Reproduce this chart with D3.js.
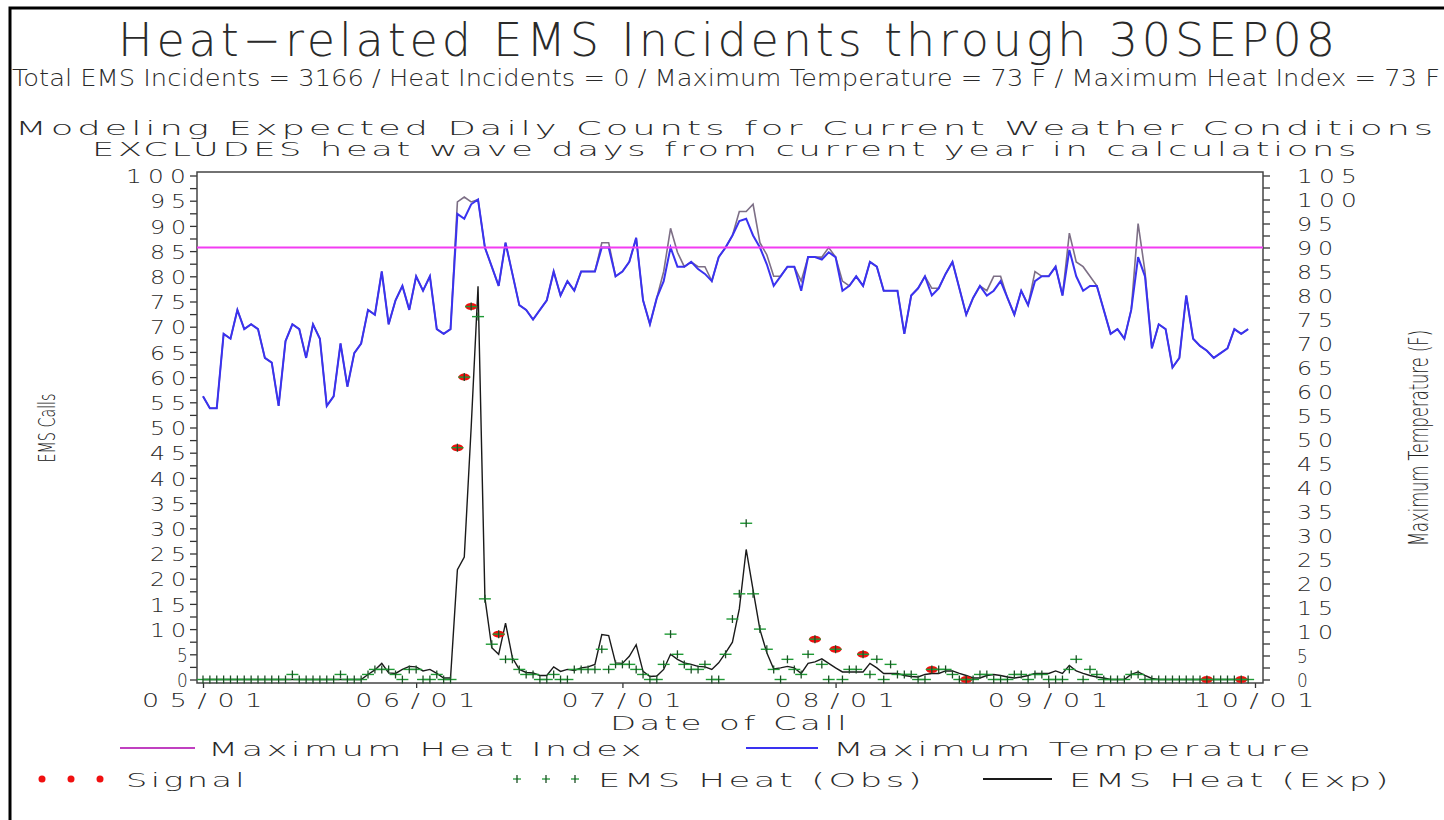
<!DOCTYPE html>
<html>
<head>
<meta charset="utf-8">
<script src="https://cdnjs.cloudflare.com/ajax/libs/d3/7.8.5/d3.min.js"></script>
<style>
  body { margin: 0; background: #fff; }
  svg text { font-family: "DejaVu Sans", sans-serif; font-weight: 300; fill: #2a2a2a; }
</style>
</head>
<body>
<div id="canvas"></div>
<script>
// daily values, 01MAY08 .. 30SEP08
var startDay = new Date(2008, 4, 1),
    endDay = new Date(2008, 9, 1);

var maxTemp = [
    59, 56.5, 56.5, 72, 71, 77, 73, 74, 73, 67,
    66, 57, 70.5, 74, 73, 67, 74, 71, 57, 59,
    70, 61, 68, 70, 77, 76, 85, 74, 79, 82,
    77, 84, 81, 84, 73, 72, 73, 97, 96, 99,
    100, 90, 86, 82, 91, 84.5, 78, 77, 75, 77,
    79, 85, 80, 83, 81, 85, 85, 85, 90, 90,
    84, 85, 87, 92, 79, 74, 79.5, 83, 90, 86,
    86, 87, 85.5, 84.5, 83, 88, 90, 92.5, 95.5, 96,
    92.5, 90, 86.5, 82, 84, 86, 86, 81, 88, 88,
    87.5, 89, 88, 81, 82, 84, 82, 87, 86, 81,
    81, 81, 72, 80, 81.5, 84, 80, 81.5, 84.5, 87,
    81.5, 76, 79.5, 82, 80, 81, 83, 79.5, 76, 81,
    78, 83, 84, 84, 86, 80, 89.5, 84, 81, 82,
    82, 77, 72, 73, 71, 77, 88, 84, 69, 74,
    73, 65, 67, 80, 71, 69.5, 68.5, 67, 68, 69,
    73, 72, 73
];

var maxHeatIndex = [
    59, 56.5, 56.5, 72, 71, 77, 73, 74, 73, 67,
    66, 57, 70.5, 74, 73, 67, 74, 71, 57, 59,
    70, 61, 68, 70, 77, 76, 85, 74, 79, 82,
    77, 84, 81, 84, 73, 72, 73, 99.5, 100.5, 99.5,
    100, 90, 86, 82, 91, 84.5, 78, 77, 75, 77,
    79, 85, 80, 83, 81, 85, 85, 85, 91, 91,
    84, 85, 87, 92, 79, 74, 79.5, 85, 94, 89,
    86, 87, 86, 86, 83, 88, 90, 92.5, 97.5, 97.5,
    99, 91, 88.5, 84, 84, 86, 86, 83, 88, 88,
    88, 90, 88, 83, 82, 84, 82, 87, 86, 81,
    81, 81, 72, 80, 81.5, 84, 81.5, 81.5, 84.5, 87,
    81.5, 76, 79.5, 82, 81, 84, 84, 79.5, 76, 81,
    78, 85, 84, 84, 86, 80, 93, 87, 86, 84,
    82, 77, 72, 73, 71, 77, 95, 85, 69, 74,
    73, 65, 67, 80, 71, 69.5, 68.5, 67, 68, 69,
    73, 72, 73
];

var emsExp = [
    0, 0, 0, 0, 0, 0, 0, 0, 0, 0,
    0, 0, 0, 0, 0, 0, 0, 0, 0, 0,
    0, 0, 0, 0, 1.0, 1.9, 3.2, 1.3, 1.2, 2.0,
    2.6, 2.5, 1.7, 2.0, 1.2, 0.3, 0.3, 21.8, 24.3, 50,
    78, 16.2, 6.3, 5, 11.2, 4.3, 2, 1.4, 1.3, 0.8,
    0.8, 2.5, 1.6, 2, 1.8, 2.3, 2.5, 3, 8.9, 8.7,
    3.3, 3.2, 4.6, 6.9, 1.6, 0.6, 0.7, 2, 5, 4,
    3.3, 3, 2.6, 2.5, 2, 3.3, 5.3, 7.4, 14, 25.8,
    17.8, 9.9, 5.3, 2.1, 2.3, 2.6, 2.3, 1.2, 3.2, 3.5,
    4.1, 3.2, 2.3, 1.5, 1.5, 1.5, 1.5, 3.2, 2.3, 1.2,
    1.2, 1.2, 0.8, 0.6, 0.5, 1.0, 1.2, 1.2, 1.7, 1.7,
    1.2, 0.8, 0.3, 0.3, 0.8, 1.0, 0.8, 0.5, 0.3, 0.5,
    0.8, 1.2, 1.2, 1.2, 1.7, 1.2, 2.8, 1.7, 1.2, 0.8,
    0.5, 0.3, 0, 0, 0, 1.0, 1.5, 0.8, 0.2, 0,
    0, 0, 0, 0, 0, 0, 0, 0, 0, 0,
    0, 0, 0
];

var emsObs = [
    0, 0, 0, 0, 0, 0, 0, 0, 0, 0,
    0, 0, 0, 1, 0, 0, 0, 0, 0, 0,
    1, 0, 0, 0, 1, 2, 2, 2, 1, 0,
    2, 2, 0, 0, 1, 0, 0, 46, 60, 74,
    72, 16, 7, 9, 4, 4, 2, 1, 1, 0,
    0, 1, 0, 0, 2, 2, 2, 2, 6, 2,
    3, 3, 3, 2, 1, 0, 0, 3, 9, 5,
    3, 2, 2, 3, 0, 0, 5, 12, 17, 31,
    17, 10, 6, 2, 0, 4, 2, 1, 5, 8,
    3, 0, 6, 0, 2, 2, 5, 1, 4, 0,
    3, 1, 1, 1, 0, 0, 2, 2, 2, 1,
    0, 0, 0, 1, 1, 0, 0, 0, 1, 1,
    0, 1, 1, 0, 0, 0, 2, 4, 0, 2,
    1, 0, 0, 0, 0, 1, 1, 0, 0, 0,
    0, 0, 0, 0, 0, 0, 0, 0, 0, 0,
    0, 0, 0
];

// day index (0 = 01MAY) of the signal days
var signalDays = [37, 38, 39, 43, 89, 92, 96, 106, 111, 146, 151];

var heatIndexLimit = 90;
var monthLabels = ["05/01", "06/01", "07/01", "08/01", "09/01", "10/01"];

var dates = d3.timeDay.range(startDay, endDay);

var width = 1444,
    height = 820;

var svg = d3.select("#canvas")
    .append("svg")
    .attr("width", width)
    .attr("height", height);

// page frame
svg.append("path")
    .attr("d", "M10,820 L10,8 L1444,8")
    .style("fill", "none")
    .style("stroke", "#000")
    .style("stroke-width", 3);

// wide, stretched text like the SAS hardware font
function wideText(x, y, len, size, str) {
    return svg.append("text")
        .attr("x", x).attr("y", y)
        .attr("textLength", len)
        .attr("lengthAdjust", "spacingAndGlyphs")
        .style("font-size", size + "px")
        .style("letter-spacing", "2px")
        .text(str);
}

// titles
svg.append("text")
    .attr("x", 118).attr("y", 56)
    .attr("textLength", 1217)
    .style("font-size", "46px")
    .style("font-weight", 200)
    .text("Heat\u2212related EMS Incidents through 30SEP08");

svg.append("text")
    .attr("x", 12).attr("y", 86)
    .attr("textLength", 1428)
    .attr("lengthAdjust", "spacingAndGlyphs")
    .style("font-size", "23px")
    .text("Total EMS Incidents = 3166 / Heat Incidents = 0 / Maximum Temperature = 73 F / Maximum Heat Index = 73 F");

wideText(15, 135, 1422, 19, "Modeling Expected Daily Counts for Current Weather Conditions");
wideText(92, 156, 1268, 19, "EXCLUDES heat wave days from current year in calculations");

// scales
var x = d3.scaleTime().domain([startDay, endDay]).range([203, 1255]);
var yLeft = d3.scaleLinear().domain([0, 100]).range([679.5, 175.5]);
var yRight = d3.scaleLinear().domain([0, 105]).range([679.5, 175.5]);

// axes
var leftAxis = d3.axisLeft(yLeft)
    .tickValues(d3.range(0, 100.1, 2.5))
    .tickSize(7).tickPadding(2)
    .tickFormat(function(d) { return d % 5 === 0 ? d : ""; });

var rightAxis = d3.axisRight(yRight)
    .tickValues(d3.range(0, 105.1, 2.5))
    .tickSize(7).tickPadding(27)
    .tickFormat(function(d) { return d % 5 === 0 ? d : ""; });

var bottomAxis = d3.axisBottom(x)
    .ticks(d3.timeMonth.every(1))
    .tickSize(5).tickPadding(5)
    .tickFormat(function(d, i) { return monthLabels[i]; });

var gl = svg.append("g").attr("transform", "translate(197,0)").call(leftAxis);
var gr = svg.append("g").attr("transform", "translate(1263,0)").call(rightAxis);
var gb = svg.append("g").attr("transform", "translate(0,683)").call(bottomAxis);

function labelWidth(s) {
    return s.length === 1 ? 15 : s.length === 2 ? 42 : 66;
}

[gl, gr, gb].forEach(function(g) {
    g.select(".domain").remove();
    g.selectAll("line").style("stroke", "#333").style("stroke-width", 1.3);
    g.selectAll("text")
        .style("font-family", "DejaVu Sans")
        .style("font-size", "20px")
        .style("fill", "#2a2a2a")
        .attr("lengthAdjust", "spacingAndGlyphs");
});
gl.selectAll("text")
    .style("letter-spacing", "5px")
    .attr("dx", 4)
    .attr("dy", "0.36em")
    .attr("textLength", function() { return labelWidth(this.textContent); });
gr.selectAll("text")
    .style("letter-spacing", "5px")
    .attr("text-anchor", "start").attr("x", 34).attr("dy", "0.36em")
    .attr("textLength", function() { return labelWidth(this.textContent); });
gb.selectAll("text")
    .style("letter-spacing", "8px")
    .attr("dx", 4)
    .attr("textLength", 131);

// plot frame
svg.append("rect")
    .attr("x", 197).attr("y", 172)
    .attr("width", 1066).attr("height", 511)
    .style("fill", "none")
    .style("stroke", "#444")
    .style("stroke-width", 1.5);

// axis titles
svg.append("text")
    .attr("transform", "translate(55,428) rotate(-90)")
    .attr("text-anchor", "middle")
    .attr("textLength", 69)
    .attr("lengthAdjust", "spacingAndGlyphs")
    .style("font-size", "23px")
    .style("font-weight", 300)
    .style("fill", "#111")
    .text("EMS Calls");

svg.append("text")
    .attr("transform", "translate(1428,438) rotate(-90)")
    .attr("text-anchor", "middle")
    .attr("textLength", 216)
    .attr("lengthAdjust", "spacingAndGlyphs")
    .style("font-size", "27px")
    .style("font-weight", 300)
    .style("fill", "#222")
    .text("Maximum Temperature (F)");

wideText(610, 730, 240, 20, "Date of Call");

// temperature / heat index lines (right axis)
var lineRight = d3.line()
    .x(function(d, i) { return x(dates[i]); })
    .y(function(d) { return yRight(d); });

svg.append("path")
    .datum(maxHeatIndex)
    .attr("d", lineRight)
    .style("fill", "none")
    .style("stroke", "#7d6f86")
    .style("stroke-width", 1.6);

svg.append("path")
    .datum(maxTemp)
    .attr("d", lineRight)
    .style("fill", "none")
    .style("stroke", "#3a32f0")
    .style("stroke-width", 2);

svg.append("line")
    .attr("x1", 197).attr("x2", 1263)
    .attr("y1", yRight(heatIndexLimit)).attr("y2", yRight(heatIndexLimit))
    .style("stroke", "#f23cf2")
    .style("stroke-width", 2);

// EMS expected line (left axis)
var lineLeft = d3.line()
    .x(function(d, i) { return x(dates[i]); })
    .y(function(d) { return yLeft(d); });

svg.append("path")
    .datum(emsExp)
    .attr("d", lineLeft)
    .style("fill", "none")
    .style("stroke", "#1a1a1a")
    .style("stroke-width", 1.4);

// signal points
svg.selectAll("ellipse.signal")
    .data(signalDays)
    .enter()
    .append("ellipse")
    .attr("class", "signal")
    .attr("cx", function(d) { return x(dates[d]); })
    .attr("cy", function(d) { return yLeft(emsObs[d]); })
    .attr("rx", 6).attr("ry", 3.5)
    .style("fill", "#f01010");

// observed "+" markers
var obs = svg.selectAll("g.obs")
    .data(emsObs)
    .enter()
    .append("g")
    .attr("class", "obs")
    .attr("transform", function(d, i) {
        return "translate(" + x(dates[i]) + "," + yLeft(d) + ")";
    });

obs.append("line")
    .attr("x1", -6).attr("x2", 6)
    .style("stroke", "#1f9a35").style("stroke-width", 1.4);
obs.append("line")
    .attr("y1", -4).attr("y2", 4)
    .style("stroke", "#1c4f25").style("stroke-width", 1.3);

// legend
var legend = svg.append("g");

legend.append("line")
    .attr("x1", 120).attr("x2", 195).attr("y1", 748).attr("y2", 748)
    .style("stroke", "#c040c0").style("stroke-width", 2);
wideText(208, 756, 437, 20, "Maximum Heat Index");

legend.append("line")
    .attr("x1", 746).attr("x2", 818).attr("y1", 748).attr("y2", 748)
    .style("stroke", "#3a32f0").style("stroke-width", 2);
wideText(833, 756, 481, 20, "Maximum Temperature");

legend.selectAll("circle")
    .data([42, 71, 100])
    .enter()
    .append("circle")
    .attr("cx", function(d) { return d; })
    .attr("cy", 779)
    .attr("r", 3.5)
    .style("fill", "#f01010");
wideText(126, 787, 122, 20, "Signal");

var legPlus = legend.selectAll("g.plus")
    .data([517, 546, 575])
    .enter()
    .append("g")
    .attr("class", "plus")
    .attr("transform", function(d) { return "translate(" + d + ",779)"; });
legPlus.append("line").attr("x1", -4).attr("x2", 4)
    .style("stroke", "#1f9a35").style("stroke-width", 1.3);
legPlus.append("line").attr("y1", -4).attr("y2", 4)
    .style("stroke", "#1c4f25").style("stroke-width", 1.3);
wideText(598, 787, 327, 20, "EMS Heat (Obs)");

legend.append("line")
    .attr("x1", 983).attr("x2", 1052).attr("y1", 779).attr("y2", 779)
    .style("stroke", "#1a1a1a").style("stroke-width", 2);
wideText(1069, 787, 323, 20, "EMS Heat (Exp)");
</script>
</body>
</html>
